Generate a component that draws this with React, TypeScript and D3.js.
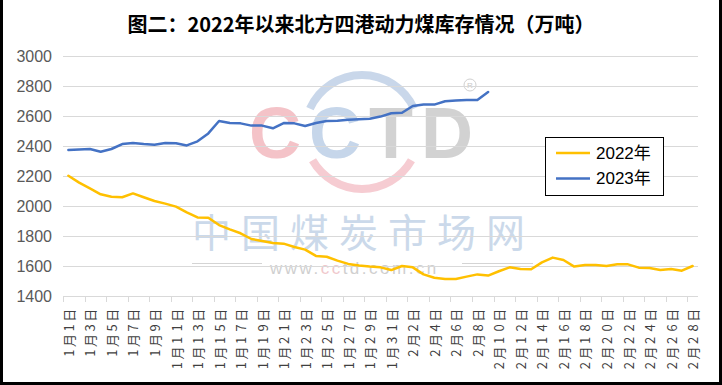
import React from "react";
import * as d3 from "d3";

const title = "图二：2022年以来北方四港动力煤库存情况（万吨）";
const monthDays: [number, number][] = [[1, 31], [2, 28]];
const categories: string[] = [];
monthDays.forEach(([m, n]) => {
  for (let d = 1; d <= n; d++) categories.push(`${m}月${d}日`);
});
const yTicks = [1400, 1600, 1800, 2000, 2200, 2400, 2600, 2800, 3000];
const seriesNames = ["2022年", "2023年"];
const seriesColors = ["#FFC000", "#4472C4"];
const s2022 = [
  2202, 2156, 2118, 2078, 2062, 2058, 2084, 2058, 2033, 2016,
  1996, 1958, 1924, 1922, 1873, 1844, 1818, 1780, 1767, 1753,
  1749, 1727, 1709, 1667, 1662, 1636, 1614, 1603, 1596, 1591,
  1573, 1600, 1591, 1544, 1522, 1513, 1513, 1529, 1544, 1536,
  1565, 1591, 1580, 1578, 1624, 1656, 1640, 1596, 1607, 1607,
  1600, 1611, 1611, 1589, 1587, 1573, 1580, 1569, 1600,
];
const s2023 = [
  2373, 2377, 2380, 2362, 2380, 2413, 2420, 2413, 2409, 2420,
  2418, 2404, 2431, 2484, 2567, 2553, 2551, 2536, 2536, 2518,
  2553, 2551, 2533, 2553, 2567, 2568, 2575, 2579, 2582, 2596,
  2618, 2622, 2667, 2676, 2676, 2698, 2704, 2707, 2707, 2760,
];
const seriesData = [s2022, s2023];

const W = 722;
const H = 385;
const PL = 63;
const PR = 698;
const PT = 56;
const PB = 296;

export default function App() {
  const x = d3.scaleBand<number>().domain(categories.map((_, i) => i)).range([PL, PR]).paddingInner(0).paddingOuter(0);
  const bw = x.bandwidth();
  const cx = (i: number) => (x(i) as number) + bw / 2;
  const y = d3.scaleLinear().domain([1400, 3000]).range([PB, PT]);
  const line = d3.line<number>().x((_, i) => cx(i)).y((v) => y(v));

  const labelIdx = categories.map((_, i) => i).filter((i) => i % 2 === 0);
  const adv = 12.6;
  const cjk = "'Noto Sans CJK SC', 'Liberation Sans', sans-serif";

  return (
    <svg width={W} height={H} style={{ position: "absolute", left: 0, top: 0, background: "#fff" }}>
      <rect x={0} y={0} width={W} height={H} fill="#fff" />
      {/* watermark */}
      <g>
        <path d={d3.arc()({ innerRadius: 53, outerRadius: 61, startAngle: -1.15, endAngle: 1.15 }) as string}
          transform="translate(362,132)" fill="#c9d7ea" />
        <path d={d3.arc()({ innerRadius: 53, outerRadius: 61, startAngle: Math.PI - 1.05, endAngle: Math.PI + 1.05 }) as string}
          transform="translate(362,132)" fill="#f6ccd2" />
        <text x={249} y={158} fontFamily="'Liberation Sans', Arial, sans-serif" fontSize={72} fontWeight="bold" letterSpacing={8}>
          <tspan fill="#f4c3c8">C</tspan>
          <tspan fill="#c6d6ea">C</tspan>
          <tspan fill="#d2d2d2">T</tspan>
          <tspan fill="#d2d2d2">D</tspan>
        </text>
        <circle cx={470} cy={85} r={6} fill="none" stroke="#d0d0d0" strokeWidth={1} />
        <text x={470} y={85} textAnchor="middle" dominantBaseline="central" fontSize={8} fill="#c8c8c8" fontFamily="'Liberation Sans', sans-serif">R</text>
        <text x={192} y={247} fontFamily={cjk} fontSize={39} letterSpacing={10} fill="#cbd9ea">中国煤炭市场网</text>
        <line x1={192} x2={262} y1={263.5} y2={263.5} stroke="#d4d4d4" strokeWidth={1} />
        <line x1={462} x2={533} y1={263.5} y2={263.5} stroke="#d4d4d4" strokeWidth={1} />
        <text x={270} y={274} fontFamily="'Liberation Sans', sans-serif" fontSize={17} letterSpacing={2.5} fill="#cfcfcf">
          www.<tspan fill="#f0c8cc">cc</tspan><tspan fill="#d0d0d0">td</tspan>.com.cn
        </text>
      </g>
      {/* gridlines */}
      {yTicks.map((t) => (
        <line key={t} x1={PL} x2={PR} y1={Math.round(y(t)) + 0.5} y2={Math.round(y(t)) + 0.5} stroke="#d9d9d9" strokeWidth={1} />
      ))}
      {/* x ticks */}
      {labelIdx.map((i) => (
        <line key={"t" + i} x1={Math.round(x(i) as number) + 0.5} x2={Math.round(x(i) as number) + 0.5} y1={PB} y2={PB + 6} stroke="#d9d9d9" strokeWidth={1} />
      ))}
      {/* y labels */}
      {yTicks.map((t) => (
        <text key={"y" + t} x={52} y={y(t)} textAnchor="end" dominantBaseline="central" fontFamily="'Liberation Sans', Arial, sans-serif" fontSize={16} fill="#595959">
          {t}
        </text>
      ))}
      {/* x labels */}
      {labelIdx.map((i) => {
        const chars = Array.from(categories[i]);
        const n = chars.length;
        return (
          <g key={"l" + i} transform={`translate(${cx(i)},309) rotate(-90)`}>
            {chars.map((c, j) => (
              <text key={j} x={-(n - 1 - j + 0.5) * adv} y={0} textAnchor="middle" dominantBaseline="central" fontFamily={cjk} fontSize={13} fill="#404040">
                {c}
              </text>
            ))}
          </g>
        );
      })}
      {/* series */}
      {seriesData.map((s, k) => (
        <path key={"s" + k} d={line(s) as string} fill="none" stroke={seriesColors[k]} strokeWidth={2.5} strokeLinejoin="round" strokeLinecap="round" />
      ))}
      {/* legend */}
      <rect x={545.5} y={137.5} width={118} height={58} fill="#fff" stroke="#000" strokeWidth={1} />
      {seriesNames.map((nm, k) => (
        <g key={"lg" + k}>
          <line x1={556} x2={590} y1={153 + k * 25.5} y2={153 + k * 25.5} stroke={seriesColors[k]} strokeWidth={2.5} />
          <text x={596} y={153 + k * 25.5} dominantBaseline="central" fontFamily="'Liberation Sans', 'Noto Sans CJK SC', sans-serif" fontSize={17} fill="#000">
            {nm}
          </text>
        </g>
      ))}
      {/* title */}
      <text x={361} y={23} textAnchor="middle" dominantBaseline="central" fontFamily={cjk} fontWeight="bold" fontSize={20} fill="#000">
        {title}
      </text>
      {/* frame */}
      <path d={`M1.5,0 V${H - 1.5} H${W - 1.5} V0`} fill="none" stroke="#000" strokeWidth={3} />
    </svg>
  );
}
